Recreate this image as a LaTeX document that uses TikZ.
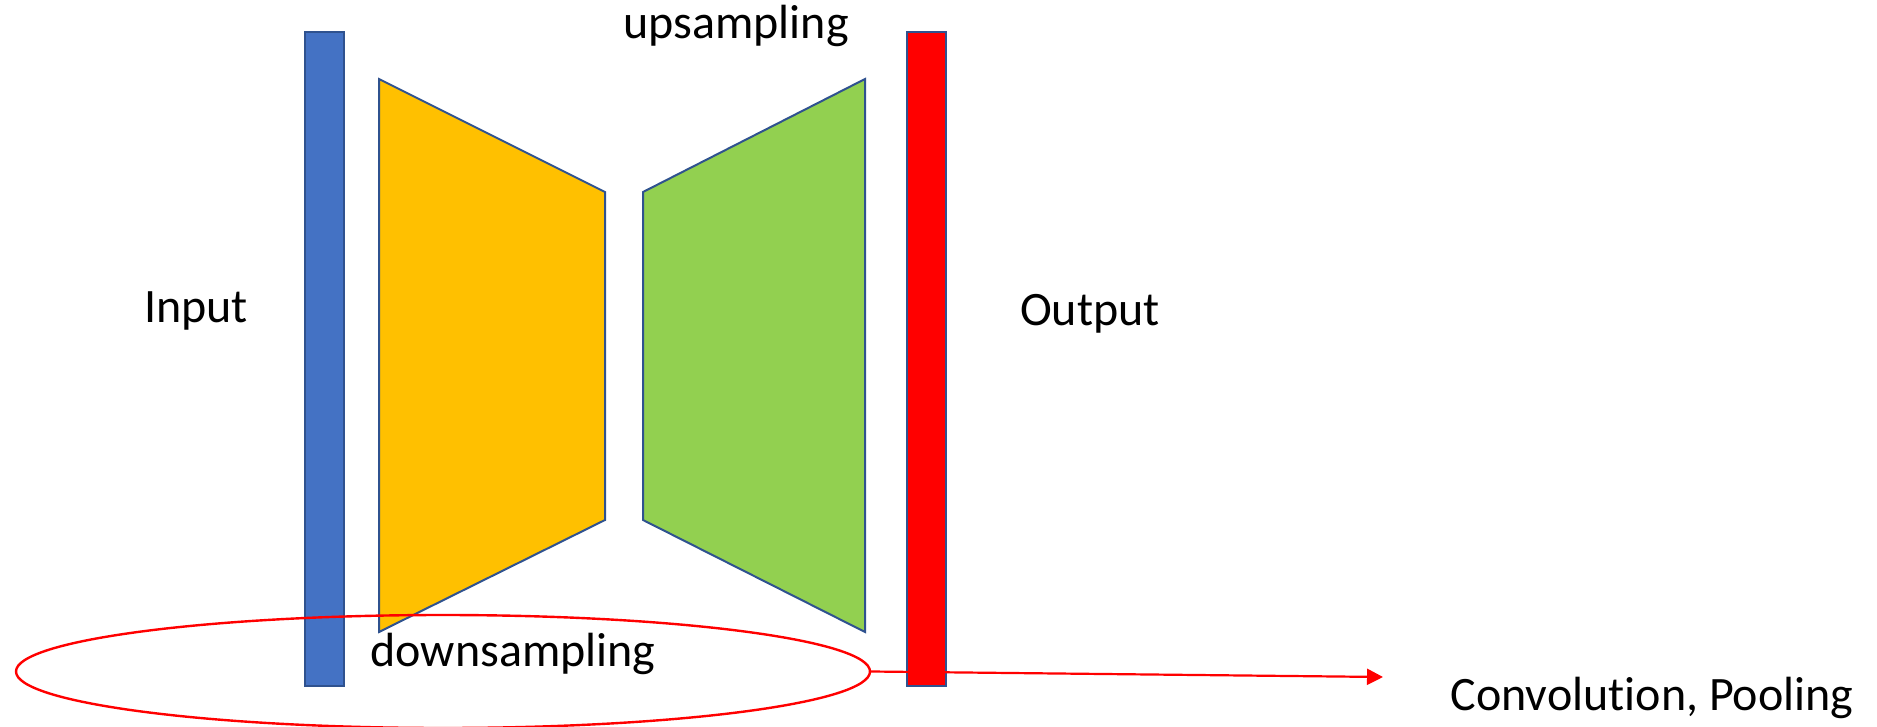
\documentclass[tikz,border=0pt]{standalone}
\usepackage{fontspec}
\setmainfont[Ligatures={NoCommon}]{Carlito}
\usetikzlibrary{shapes.geometric,arrows.meta}
\definecolor{inblue}{HTML}{4472C4}
\definecolor{enc}{HTML}{FFC000}
\definecolor{dec}{HTML}{92D050}
\definecolor{outl}{HTML}{2F528F}
\definecolor{outred}{HTML}{FF0000}
\begin{document}
\begin{tikzpicture}[x=0.5pt,y=-0.5pt,
  bar/.style={draw=outl,line width=1pt,minimum width=19.5pt,minimum height=327pt,inner sep=0pt},
  trap/.style={draw=outl,line width=1pt},
  lbl/.style={font=\fontsize{24}{28}\selectfont,inner sep=0pt}]
\useasboundingbox (0,0) rectangle (1877,727);
\clip (0,0) rectangle (1877,727);
\node[bar,fill=inblue] (in) at (324.5,359) {};
\node[bar,fill=outred] (out) at (926.5,359) {};
\filldraw[trap,fill=enc] (379,79) -- (605,192) -- (605,520) -- (379,632) -- cycle;
\filldraw[trap,fill=dec] (865,79) -- (643,192) -- (643,520) -- (865,632) -- cycle;
\node[ellipse,draw=outred,line width=1.2pt,minimum width=427pt,minimum height=56.5pt,inner sep=0pt] (ell) at (443,671.5) {};
\coordinate (tip) at (1383,677);
\draw[outred,line width=1.1pt,-{Triangle[length=8pt,width=8pt]}] (ell.east) -- (tip);
\node[lbl] (tin) at (196,311) {Input};
\node[lbl] (tout) at (1090,314) {Output};
\node[lbl] (tup) at (736,26) {upsampling};
\node[lbl] (tdown) at (513,654) {downsampling};
\node[lbl] (tconv) at (1652,698) {Convolution, Pooling};
\end{tikzpicture}
\end{document}
